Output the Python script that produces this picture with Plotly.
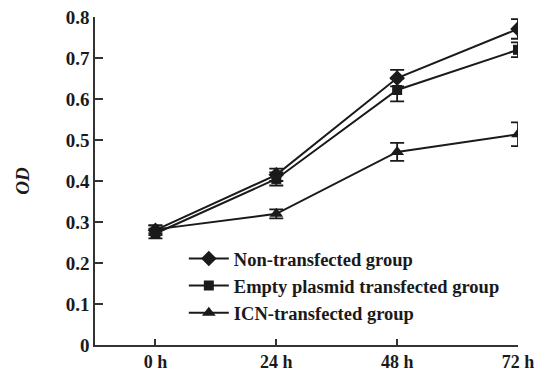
import plotly.graph_objects as go

times = ["0 h", "24 h", "48 h", "72 h"]
non_transfected = [0.280, 0.415, 0.651, 0.771]
non_err = [0.012, 0.015, 0.020, 0.024]
empty_plasmid = [0.272, 0.405, 0.622, 0.720]
empty_err = [0.012, 0.016, 0.028, 0.018]
icn = [0.282, 0.320, 0.471, 0.514]
icn_err = [0.010, 0.011, 0.022, 0.029]

x = list(range(len(times)))
font_family = "Liberation Serif"

fig = go.Figure()
series = [
    ("Non-transfected group", non_transfected, non_err, "diamond", 12),
    ("Empty plasmid transfected group", empty_plasmid, empty_err, "square", 10),
    ("ICN-transfected group", icn, icn_err, "triangle-up", 12),
]
for name, vals, errs, sym, size in series:
    fig.add_trace(go.Scatter(
        x=x, y=vals, name=name, mode="lines+markers",
        line=dict(color="#1a1a1a", width=2),
        marker=dict(symbol=sym, size=size, color="#1a1a1a"),
        error_y=dict(type="data", array=errs, visible=True, color="#1a1a1a",
                     thickness=1.8, width=7),
    ))

fig.update_layout(
    width=544, height=371,
    margin=dict(l=95, r=26, t=17, b=26),
    paper_bgcolor="white", plot_bgcolor="white",
    font=dict(family=font_family, color="#1a1a1a", size=18),
    showlegend=True,
    legend=dict(
        x=0.21, y=0.32, xanchor="left", yanchor="top",
        bgcolor="rgba(0,0,0,0)",
        font=dict(family=font_family, size=18.5, color="#1a1a1a", weight="bold"),
        tracegroupgap=0, itemwidth=40,
    ),
    xaxis=dict(
        range=[-0.5, 3.0], tickmode="array", tickvals=x, ticktext=times,
        showline=True, linecolor="#333", linewidth=1.5,
        ticks="inside", ticklen=6, tickcolor="#333", tickwidth=1.5,
        showgrid=False, zeroline=False, automargin=False,
        tickfont=dict(family=font_family, size=18, weight="bold"),
    ),
    yaxis=dict(
        range=[0, 0.8], tickmode="array",
        tickvals=[0, 0.1, 0.2, 0.3, 0.4, 0.5, 0.6, 0.7, 0.8],
        ticktext=["0", "0.1", "0.2", "0.3", "0.4", "0.5", "0.6", "0.7", "0.8"],
        showline=True, linecolor="#333", linewidth=1.5,
        ticks="inside", ticklen=8, tickcolor="#333", tickwidth=1.5,
        showgrid=False, zeroline=False, automargin=False,
        tickfont=dict(family=font_family, size=19, weight="bold"),
        title=dict(text="<i>OD</i>", standoff=31,
                   font=dict(family=font_family, size=19, weight="bold")),
    ),
)

fig.write_html("out.html")
